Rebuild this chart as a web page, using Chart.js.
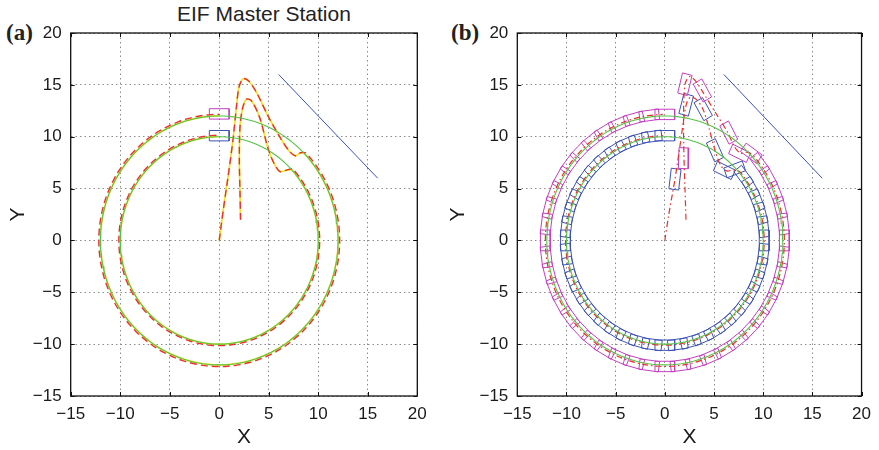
<!DOCTYPE html>
<html>
<head>
<title>EIF Master Station</title>
<script src="https://cdn.jsdelivr.net/npm/chart.js"></script>
<style>
  body { margin: 0; background: #fff; width: 879px; height: 450px; position: relative; overflow: hidden; font-family: "Liberation Sans", Arial, sans-serif; }
  canvas { position: absolute; top: 0; }
  #chartA { left: 0; }
  #chartB { left: 440px; }
  .tag { position: absolute; top: 21px; font-family: "Liberation Serif", "Times New Roman", serif; font-weight: bold; font-size: 23px; line-height: 1; color: #222; }
  .ttl { position: absolute; top: 3px; left: 177px; font-size: 21px; line-height: 1; color: #222; white-space: nowrap; }
</style>
</head>
<body>
<div class="ttl">EIF Master Station</div>
<div class="tag" style="left:6px">(a)</div>
<div class="tag" style="left:451px">(b)</div>
<canvas id="chartA" width="440" height="450"></canvas>
<canvas id="chartB" width="439" height="450"></canvas>

<script>
// axis ticks
const axisTicks = [-15, -10, -5, 0, 5, 10, 15, 20];

// formation circles and the straight guide line
const circleRadii = [10, 12];
const guideLine = [[6, 16], [16, 6]];

// panel (a): climb/overshoot part of the two trajectories, then they ride the circles
const outerClimbA = [[0, 0], [0.4, 2.9], [0.9, 6.2], [1.4, 9.8], [1.75, 13], [2.0, 14.8], [2.43, 15.6], [3.0, 15.35], [3.8, 14.2], [4.95, 11.95], [6.1, 10.0], [7.0, 8.7], [7.66, 8.16], [8.2, 8.45]];
const innerClimbA = [[2.15, 2.0], [2.1, 4.5], [2.03, 7.8], [2.1, 11.0], [2.37, 12.8], [2.78, 13.63], [3.3, 13.4], [4.1, 11.8], [4.95, 8.8], [5.6, 7.3], [6.14, 6.64], [6.7, 6.75]];
const outerArcA = [12, 44, -270];   // radius, start angle, end angle (deg, clockwise)
const innerArcA = [10, 43, -270];
const finalBoxesOuterA = [[0, 12.2, 0]];
const finalBoxesInnerA = [[0, 10.1, 0]];

// panel (b): reference paths
const blueClimbB = [[0, 0], [0.4, 2.5], [1.03, 5.9], [1.6, 9.5], [2.17, 13.08], [2.6, 13.8], [3.2, 13.6], [3.9, 12.6], [4.5, 10.8], [5.1, 8.7], [5.7, 7.2], [6.3, 6.7], [7.0, 6.8]];
const magentaClimbB = [[2.15, 2.0], [2.05, 5], [1.95, 7.9], [1.9, 11.5], [2.04, 15.0], [2.5, 15.8], [3.1, 15.4], [3.8, 14.4], [5.1, 12.4], [6.4, 10.4], [7.1, 9.0], [7.7, 8.4], [8.3, 8.5]];
const blueArcB = [10.1, 41, -270];
const magentaArcB = [12.15, 43, -270];

// vehicle boxes [x, y, heading deg] off the circles
const blueBoxesB = [[1.03, 5.91, 83], [2.17, 13.08, 75], [3.9, 12.66, -60], [5.1, 8.7, -65], [6.05, 6.75, -25], [7.1, 6.85, 20]];
const magentaBoxesB = [[1.91, 7.93, 88], [2.04, 15.06, 76], [3.82, 14.46, -60], [6.5, 10.4, -62], [7.6, 8.4, -25], [8.8, 8.4, -35]];
// box positions (deg) along the circles, clockwise from the join point to the top
const ringAngles = [37.5, 30, 22.5, 15, 7.5, 0, -7.5, -15, -22.5, -30, -37.5, -45, -52.5, -60, -67.5, -75, -82.5, -90, -97.5, -105, -112.5, -120, -127.5, -135, -142.5, -150, -157.5, -165, -172.5, -180, -187.5, -195, -202.5, -210, -217.5, -225, -232.5, -240, -247.5, -255, -262.5, -270];
const ringRadii = { blue: 10.1, magenta: 12.15 };
const BOX_LEN = 2, BOX_WID = 1;

const GREEN = '#58c248', RED = '#e8302c', YELLOW = '#f2e226', BLUE = '#3d52b4', MAGENTA = '#c23fc0';

function pts(list) { return list.map(p => ({ x: p[0], y: p[1] })); }

function arc(a) {
  const [r, from, to] = a;
  const out = [];
  const step = from > to ? -2 : 2;
  for (let d = from; step < 0 ? d >= to : d <= to; d += step) {
    out.push({ x: r * Math.cos(d * Math.PI / 180), y: r * Math.sin(d * Math.PI / 180) });
  }
  return out;
}

function boxes(list) {
  const out = [];
  list.forEach(([cx, cy, hdg]) => {
    const h = hdg * Math.PI / 180, ux = Math.cos(h), uy = Math.sin(h);
    [[1, 1], [1, -1], [-1, -1], [-1, 1], [1, 1]].forEach(([a, b]) => {
      out.push({ x: cx + a * BOX_LEN / 2 * ux - b * BOX_WID / 2 * uy, y: cy + a * BOX_LEN / 2 * uy + b * BOX_WID / 2 * ux });
    });
    out.push({ x: null, y: null });
  });
  return out;
}

function ringBoxes(r) { return ringAngles.map(d => [r * Math.cos(d * Math.PI / 180), r * Math.sin(d * Math.PI / 180), d - 90]); }

function line(data, color, width, dash, tension) {
  return { data: data, showLine: true, borderColor: color, borderWidth: width, borderDash: dash || [], pointRadius: 0, tension: tension || 0, spanGaps: false, fill: false };
}

const frame = {
  id: 'frame',
  afterDraw(chart) {
    const { ctx, chartArea: a, scales: { x, y } } = chart;
    ctx.save();
    ctx.strokeStyle = '#111';
    ctx.lineWidth = 1;
    ctx.beginPath();
    axisTicks.forEach(v => {
      const px = Math.round(x.getPixelForValue(v)) + 0.5, py = Math.round(y.getPixelForValue(v)) + 0.5;
      ctx.moveTo(px, a.bottom); ctx.lineTo(px, a.bottom - 4);
      ctx.moveTo(px, a.top); ctx.lineTo(px, a.top + 4);
      ctx.moveTo(a.left, py); ctx.lineTo(a.left + 4, py);
      ctx.moveTo(a.right, py); ctx.lineTo(a.right - 4, py);
    });
    ctx.stroke();
    ctx.lineWidth = 1.3;
    ctx.strokeRect(a.left, a.top, a.right - a.left, a.bottom - a.top);
    ctx.restore();
  }
};

function makeOptions(yWidth, rightPad) {
  const tickFont = { family: '"Liberation Sans", Arial, sans-serif', size: 17 };
  const titleFont = { family: '"Liberation Sans", Arial, sans-serif', size: 21 };
  const fmt = v => String(v).replace('-', '\u2212');
  return {
    responsive: false,
    animation: false,
    layout: { padding: { top: 33, right: rightPad, left: 0, bottom: 0 } },
    plugins: { legend: { display: false }, tooltip: { enabled: false } },
    scales: {
      x: {
        type: 'linear', min: -15, max: 20,
        afterFit: s => { s.height = 54; },
        ticks: { stepSize: 5, color: '#1a1a1a', font: tickFont, padding: 8, callback: fmt, maxRotation: 0 },
        grid: { color: '#8c8c8c', lineWidth: 1, drawTicks: false },
        border: { display: false, dash: [1.5, 3] },
        title: { display: true, text: 'X', color: '#1a1a1a', font: titleFont, padding: { top: 0, bottom: 0 } }
      },
      y: {
        type: 'linear', min: -15, max: 20,
        afterFit: s => { s.width = yWidth; },
        ticks: { stepSize: 5, color: '#1a1a1a', font: tickFont, padding: 9, callback: fmt },
        grid: { color: '#8c8c8c', lineWidth: 1, drawTicks: false },
        border: { display: false, dash: [1.5, 3] },
        title: { display: true, text: 'Y', color: '#1a1a1a', font: titleFont, padding: { top: 6, bottom: 0 } }
      }
    }
  };
}

const circles = circleRadii.map(r => line(arc([r, 0, 360]), GREEN, 1.1));

new Chart(document.getElementById('chartA'), {
  type: 'scatter',
  data: {
    datasets: [
      ...circles,
      line(pts(guideLine), BLUE, 1),
      line(pts(outerClimbA).concat(arc([outerArcA[0] + 0.16, outerArcA[1], outerArcA[2]])), RED, 1.4, [7, 4], 0.3),
      line(pts(innerClimbA).concat(arc([innerArcA[0] + 0.14, innerArcA[1], innerArcA[2]])), RED, 1.4, [7, 4], 0.3),
      line(pts(outerClimbA).concat(arc(outerArcA)), YELLOW, 1.7, [], 0.3),
      line(pts(innerClimbA).concat(arc(innerArcA)), YELLOW, 1.7, [], 0.3),
      line(boxes(finalBoxesOuterA), MAGENTA, 1),
      line(boxes(finalBoxesInnerA), BLUE, 1)
    ]
  },
  options: makeOptions(70.7, 22.7),
  plugins: [frame]
});

new Chart(document.getElementById('chartB'), {
  type: 'scatter',
  data: {
    datasets: [
      ...circles,
      line(pts(guideLine), BLUE, 1),
      line(pts(magentaClimbB).concat(arc(magentaArcB)), RED, 1.2, [6, 3, 1.5, 3], 0.3),
      line(pts(blueClimbB).concat(arc(blueArcB)), RED, 1.2, [6, 3, 1.5, 3], 0.3),
      line(boxes(magentaBoxesB.concat(ringBoxes(ringRadii.magenta))), MAGENTA, 1),
      line(boxes(blueBoxesB.concat(ringBoxes(ringRadii.blue))), BLUE, 1)
    ]
  },
  options: makeOptions(77.3, 15),
  plugins: [frame]
});
</script>
</body>
</html>
